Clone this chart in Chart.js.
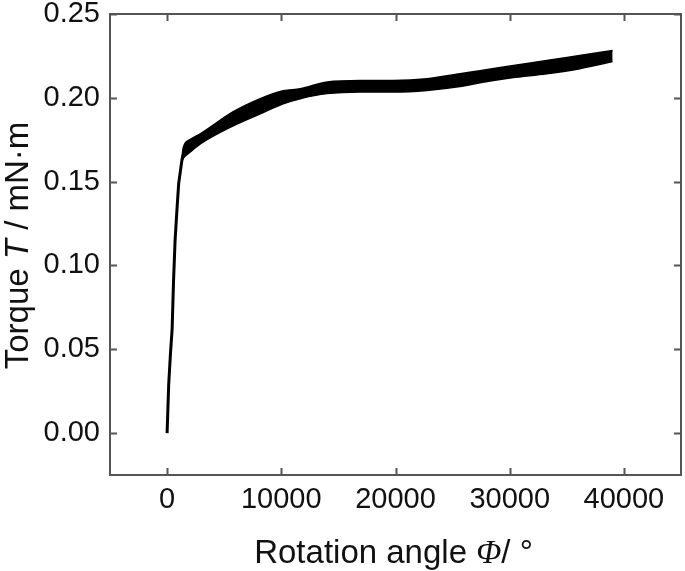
<!DOCTYPE html>
<html>
<head>
<meta charset="utf-8">
<script src="https://cdn.jsdelivr.net/npm/chart.js@4.4.0/dist/chart.umd.min.js"></script>
<style>
  html, body { margin: 0; padding: 0; background: #fff; }
  #torque-chart { display: block; }
</style>
</head>
<body>
<canvas id="torque-chart" width="685" height="571"></canvas>
<script>
// steep initial rise (rotation angle in degrees, torque in mN·m)
const steepAngle = [0, 140, 290, 440, 560, 700, 870, 1015, 1310, 1450];
const steepTorque = [0.000, 0.029, 0.047, 0.062, 0.090, 0.115, 0.134, 0.149, 0.1635, 0.167];

// thick noisy band after the knee: upper and lower edges
const bandAngle = [1300, 1425, 2000, 2911, 5796, 8156, 10166, 11652, 14016, 16900, 19790, 22760, 25640, 27386, 30183, 33243, 36127, 39013];
const bandUpper = [0.1645, 0.1705, 0.1750, 0.1785, 0.1917, 0.1995, 0.2042, 0.2054, 0.2095, 0.2104, 0.2104, 0.2114, 0.2144, 0.2162, 0.2192, 0.2222, 0.2252, 0.2282];
const bandLower = [0.1620, 0.1640, 0.1675, 0.1725, 0.1833, 0.1905, 0.1965, 0.1995, 0.2025, 0.2035, 0.2035, 0.2044, 0.2067, 0.2090, 0.2120, 0.2144, 0.2174, 0.2216];

const xTicks = [0, 10000, 20000, 30000, 40000];
const yTicks = [0.00, 0.05, 0.10, 0.15, 0.20, 0.25];

const fontFamily = '"Liberation Sans", Arial, sans-serif';
const frameColor = '#555555';

const toPoints = (xs, ys) => xs.map((x, i) => ({ x: x, y: ys[i] }));

// frame, inward ticks on all four sides, axis titles with italic symbols
const framePlugin = {
    id: 'frame',
    afterDraw(chart) {
        const { ctx, chartArea, scales } = chart;
        const { left, right, top, bottom } = chartArea;
        const tl = 7;
        ctx.save();
        ctx.strokeStyle = frameColor;
        ctx.lineWidth = 2;
        ctx.strokeRect(left, top, right - left, bottom - top);
        ctx.beginPath();
        xTicks.forEach(v => {
            const px = Math.round(scales.x.getPixelForValue(v)) + 0.5;
            ctx.moveTo(px, bottom); ctx.lineTo(px, bottom - tl);
            ctx.moveTo(px, top); ctx.lineTo(px, top + tl);
        });
        yTicks.forEach(v => {
            const py = Math.round(scales.y.getPixelForValue(v)) + 0.5;
            ctx.moveTo(left, py); ctx.lineTo(left + tl, py);
            ctx.moveTo(right, py); ctx.lineTo(right - tl, py);
        });
        ctx.stroke();

        ctx.fillStyle = '#111';
        ctx.textBaseline = 'alphabetic';
        const drawParts = (parts, x, y) => {
            let total = 0;
            parts.forEach(p => { ctx.font = p.font; total += ctx.measureText(p.text).width; });
            let cx = x - total / 2;
            parts.forEach(p => {
                ctx.font = p.font;
                ctx.textAlign = 'left';
                ctx.fillText(p.text, cx, y);
                cx += ctx.measureText(p.text).width;
            });
        };
        // x title
        drawParts([
            { text: 'Rotation angle ', font: '33px ' + fontFamily },
            { text: 'Φ', font: 'italic 33px "Liberation Serif", "Times New Roman", serif' },
            { text: '/ °', font: '33px ' + fontFamily }
        ], (left + right) / 2 - 2, 563);
        // y title
        ctx.translate(28, (top + bottom) / 2 + 1);
        ctx.rotate(-Math.PI / 2);
        drawParts([
            { text: 'Torque ', font: '33px ' + fontFamily },
            { text: 'T', font: 'italic 33px ' + fontFamily },
            { text: ' / mN·m', font: '33px ' + fontFamily }
        ], 0, 0);
        ctx.restore();
    }
};

const ctx = document.getElementById('torque-chart').getContext('2d');
const chart = new Chart(ctx, {
    type: 'line',
    data: {
        datasets: [
            {
                label: 'rise',
                data: toPoints(steepAngle, steepTorque),
                borderColor: '#000',
                borderWidth: 3,
                pointRadius: 0,
                fill: false
            },
            {
                label: 'upper',
                data: toPoints(bandAngle, bandUpper),
                borderColor: '#000',
                backgroundColor: '#000',
                borderWidth: 1.5,
                pointRadius: 0,
                cubicInterpolationMode: 'monotone',
                fill: '+1'
            },
            {
                label: 'lower',
                data: toPoints(bandAngle, bandLower),
                borderColor: '#000',
                borderWidth: 1.5,
                pointRadius: 0,
                cubicInterpolationMode: 'monotone',
                fill: false
            }
        ]
    },
    options: {
        responsive: false,
        animation: false,
        layout: { padding: { left: 0, top: 14, right: 4, bottom: 0 } },
        plugins: {
            legend: { display: false },
            tooltip: { enabled: false }
        },
        scales: {
            x: {
                type: 'linear',
                min: -5000,
                max: 45000,
                grid: { display: false, drawTicks: false },
                border: { display: false },
                afterBuildTicks: scale => { scale.ticks = xTicks.map(v => ({ value: v })); },
                afterFit: scale => { scale.height = 96; scale.paddingLeft = 0; scale.paddingRight = 0; },
                ticks: {
                    color: '#111',
                    padding: 8,
                    maxRotation: 0,
                    font: { family: fontFamily, size: 29 },
                    callback: v => String(v)
                }
            },
            y: {
                type: 'linear',
                min: -0.025,
                max: 0.25,
                grid: { display: false, drawTicks: false },
                border: { display: false },
                afterBuildTicks: scale => { scale.ticks = yTicks.map(v => ({ value: v })); },
                afterFit: scale => { scale.width = 110; scale.paddingTop = 0; scale.paddingBottom = 0; },
                ticks: {
                    color: '#111',
                    padding: 10,
                    font: { family: fontFamily, size: 29 },
                    callback: v => v.toFixed(2)
                }
            }
        }
    },
    plugins: [framePlugin]
});
</script>
</body>
</html>
